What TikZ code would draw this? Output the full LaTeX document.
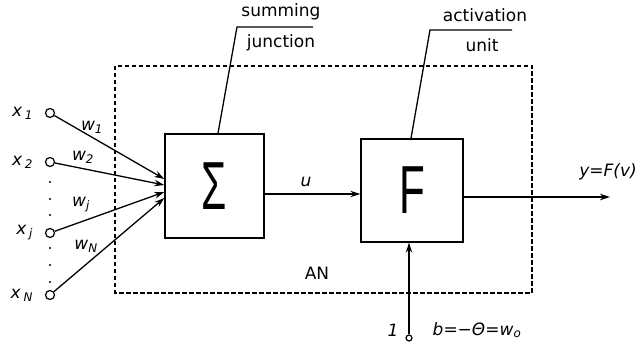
\documentclass[tikz,border=0pt]{standalone}
\usepackage{fontspec}
\setmainfont{DejaVu Sans}
\newfontfamily\symfont{Liberation Sans}
\usetikzlibrary{arrows.meta, calc, positioning}
\tikzset{
  % pixel-like units, thin lines as in the scanned figure
  every picture/.append style = {line width=1.2pt, >={Stealth[length=10pt, width=6.5pt]}},
  blockbox/.style  = {draw, line width=1.4pt, inner sep=0pt},
  inpin/.style     = {circle, draw, line width=1.2pt, fill=white, inner sep=0pt, minimum size=9pt},
  sig/.style       = {->, line width=1.3pt},
  lbl/.style       = {font=\fontsize{17}{19}\selectfont},
  ilbl/.style      = {font=\fontsize{17}{19}\selectfont\itshape},
  bigsym/.style    = {font=\fontsize{68}{68}\symfont},
}

\begin{document}
\begin{tikzpicture}[x=1pt, y=-1pt,
    frame/.style={dashed, dash pattern=on 4.5pt off 2.5pt, line width=1.2pt},
    tag/.style={line width=1.3pt}]
  \useasboundingbox (0,0) rectangle (641,352);
  % artificial neuron frame
  \draw[frame] (115,66) rectangle (532,293);
  \node[lbl] (an) at (317,273) {AN};
  % blocks
  \node[blockbox, minimum width=99pt, minimum height=104pt] (sum) at (214.5,186) {};
  \node[bigsym] (sigma) at (sum) {\scalebox{0.6}[1]{Σ}};
  \node[blockbox, minimum width=102pt, minimum height=103pt] (act) at (412,190.5) {};
  \node[bigsym] (fsym) at (act) {\scalebox{0.62}[1]{F}};
  % inputs
  \node[inpin] (x1) at (50,113) {};
  \node[inpin] (x2) at (50,162) {};
  \node[inpin] (xj) at (50,233) {};
  \node[inpin] (xN) at (50,295) {};
  \node[ilbl, left=8pt of x1] {x\,\textsubscript{1}};
  \node[ilbl, left=8pt of x2] {x\,\textsubscript{2}};
  \node[ilbl, left=8pt of xj] {x\,\textsubscript{j}};
  \node[ilbl, left=8pt of xN] {x\,\textsubscript{N}};
  \foreach \y in {182,199,215,248,265,282}
    \fill (50,\y) circle (1.2pt);
  % weighted connections
  \draw[sig] (x1) -- ([yshift=7pt]sum.west);
  \draw[sig] (x2) -- ([yshift=1pt]sum.west);
  \draw[sig] (xj) -- ([yshift=-6pt]sum.west);
  \draw[sig] (xN) -- ([yshift=-12pt]sum.west);
  \node[ilbl] (w1) at (92,127) {w\textsubscript{1}};
  \node[ilbl] (w2) at (83,157) {w\textsubscript{2}};
  \node[ilbl] (wj) at (81,205) {w\textsubscript{j}};
  \node[ilbl] (wN) at (86,246) {w\textsubscript{N}};
  % sum to activation, output
  \coordinate (uline) at (0,194);
  \draw[sig] (sum.east |- uline) -- (act.west |- uline);
  \node[ilbl] (u) at (306,182) {u};
  \coordinate (yout) at (610,197);
  \draw[sig] (act.east |- yout) -- (yout);
  \node[ilbl] (ylbl) at (608,172) {y=F(v)};
  % bias input
  \node[inpin, minimum size=6pt] (one) at (409,338) {};
  \draw[sig] (one) -- (one |- act.south);
  \node[ilbl] (onelbl) at (393,330) {1};
  \node[ilbl] (blbl) at (477,330) {b=−Θ=w\textsubscript{o}};
  % callouts
  \draw[tag] ([xshift=3.5pt]sum.north) -- (237,27) -- (313,27);
  \node[lbl] (sumtxt) at (281,12) {summing};
  \node[lbl] (juntxt) at (281,43) {junction};
  \draw[tag] ([xshift=-1pt]act.north) -- (430,30) -- (512,30);
  \node[lbl] (acttxt) at (485,15) {activation};
  \node[lbl] (unittxt) at (482,45) {unit};
\end{tikzpicture}
\end{document}
